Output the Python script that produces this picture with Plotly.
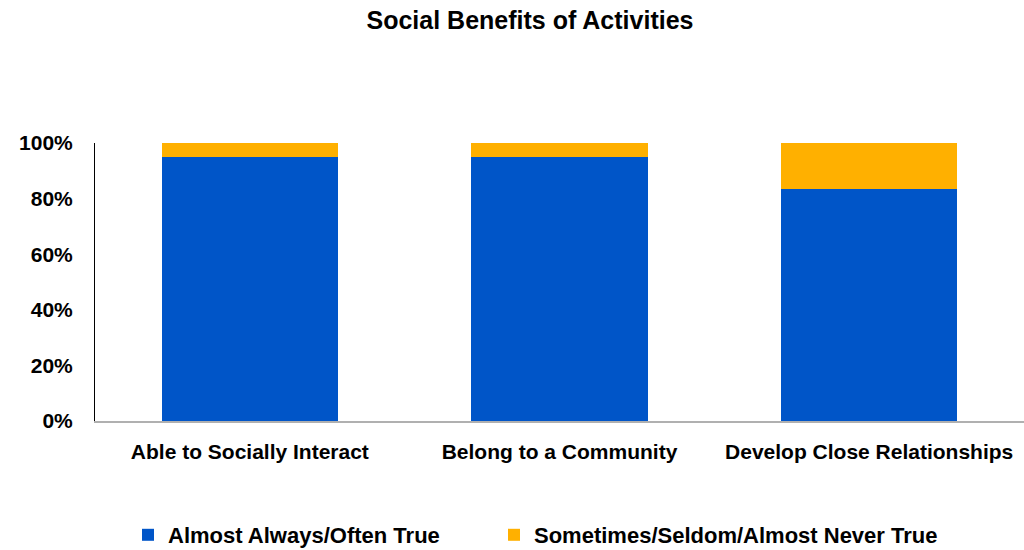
import plotly.graph_objects as go

categories = ["Able to Socially Interact", "Belong to a Community", "Develop Close Relationships"]
often_true = [0.95, 0.95, 0.835]
seldom_true = [0.05, 0.05, 0.165]
series_names = ["Almost Always/Often True", "Sometimes/Seldom/Almost Never True"]
tick_vals = [0, 0.2, 0.4, 0.6, 0.8, 1.0]
tick_text = ["0%", "20%", "40%", "60%", "80%", "100%"]

FONT = "Liberation Sans"

fig = go.Figure()
fig.add_trace(go.Bar(x=categories, y=often_true, name=f"<b>{series_names[0]}</b>",
                     marker=dict(color="#0055C8", line=dict(width=0)), legend="legend"))
fig.add_trace(go.Bar(x=categories, y=seldom_true, name=f"<b>{series_names[1]}</b>",
                     marker=dict(color="#FFB000", line=dict(width=0)), legend="legend2"))

legend_common = dict(orientation="h", xref="container", yref="container",
                     xanchor="left", y=1 - 535/550, yanchor="middle",
                     font=dict(size=22, family=FONT), itemwidth=30,
                     bgcolor="rgba(0,0,0,0)")

fig.update_layout(
    width=1024, height=550,
    barmode="stack", bargap=0.43,
    paper_bgcolor="white", plot_bgcolor="white",
    margin=dict(l=95, r=0, t=143, b=129, autoexpand=False),
    font=dict(family=FONT, color="black", size=21),
    title=dict(text="<b>Social Benefits of Activities</b>", x=530/1024, xanchor="center",
               xref="container", yref="container",
               y=1 - 20/550, yanchor="middle", font=dict(size=25, family=FONT)),
    showlegend=True,
    legend=dict(x=128/1024, **legend_common),
    legend2=dict(x=494/1024, **legend_common),
    hovermode=False,
)
fig.update_xaxes(showline=True, linecolor="#B0B0B0", linewidth=2, ticks="",
                 automargin=False, ticklabelstandoff=11,
                 tickvals=categories, ticktext=[f"<b>{c}</b>" for c in categories])
fig.update_yaxes(range=[0, 1], tickvals=tick_vals, ticktext=[f"<b>{t}</b>" for t in tick_text],
                 showgrid=False, showline=True, linecolor="black", linewidth=1,
                 ticks="", zeroline=False, automargin=False, ticklabelstandoff=17)

fig.write_html("out.html", config={"displayModeBar": False},
               post_script="document.body.style.margin='0';")
